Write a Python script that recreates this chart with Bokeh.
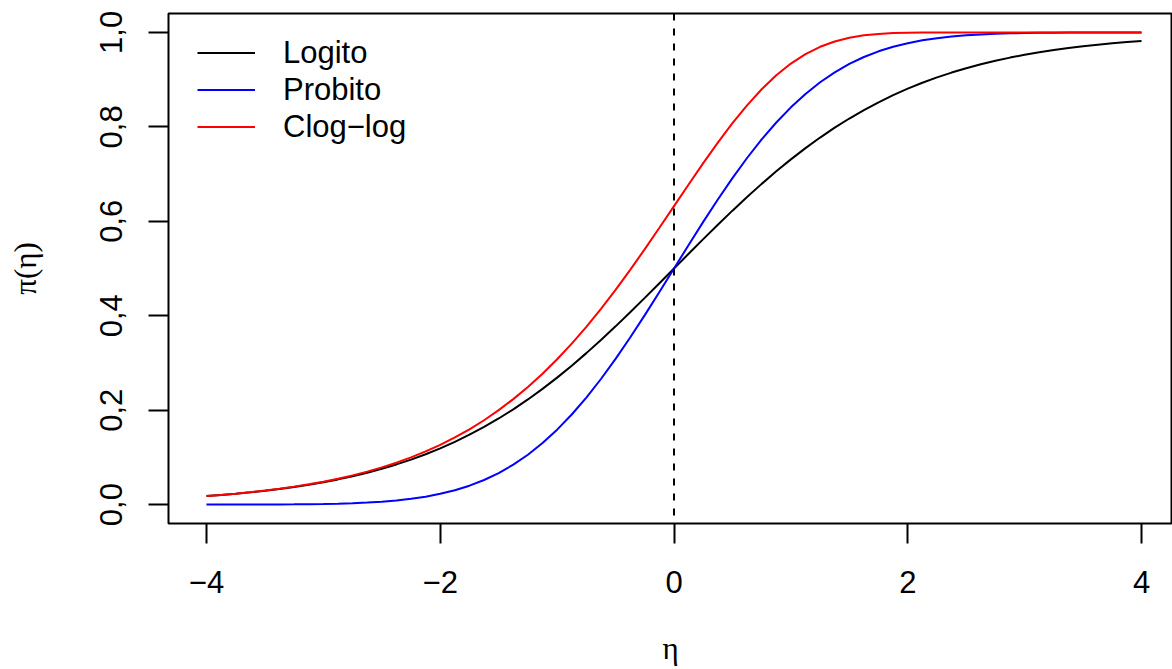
from bokeh.plotting import figure
from bokeh.models import Range1d, FixedTicker, Span, Legend, LegendItem
from bokeh.embed import file_html
from bokeh.resources import INLINE

# ---- data ----
eta = [-4.0, -3.875, -3.75, -3.625, -3.5, -3.375, -3.25, -3.125,
       -3.0, -2.875, -2.75, -2.625, -2.5, -2.375, -2.25, -2.125,
       -2.0, -1.875, -1.75, -1.625, -1.5, -1.375, -1.25, -1.125,
       -1.0, -0.875, -0.75, -0.625, -0.5, -0.375, -0.25, -0.125,
       0.0,
       0.125, 0.25, 0.375, 0.5, 0.625, 0.75, 0.875, 1.0,
       1.125, 1.25, 1.375, 1.5, 1.625, 1.75, 1.875, 2.0,
       2.125, 2.25, 2.375, 2.5, 2.625, 2.75, 2.875, 3.0,
       3.125, 3.25, 3.375, 3.5, 3.625, 3.75, 3.875, 4.0]

logito = [0.0180, 0.0203, 0.0230, 0.0260, 0.0293, 0.0331, 0.0374, 0.0421,
          0.0474, 0.0534, 0.0601, 0.0676, 0.0759, 0.0851, 0.0953, 0.1067,
          0.1192, 0.1330, 0.1480, 0.1645, 0.1824, 0.2018, 0.2227, 0.2451,
          0.2689, 0.2942, 0.3208, 0.3487, 0.3775, 0.4073, 0.4378, 0.4688,
          0.5000,
          0.5312, 0.5622, 0.5927, 0.6225, 0.6513, 0.6792, 0.7058, 0.7311,
          0.7549, 0.7773, 0.7982, 0.8176, 0.8355, 0.8520, 0.8670, 0.8808,
          0.8933, 0.9047, 0.9149, 0.9241, 0.9324, 0.9399, 0.9466, 0.9526,
          0.9579, 0.9626, 0.9669, 0.9707, 0.9740, 0.9770, 0.9797, 0.9820]

probito = [0.0000, 0.0001, 0.0001, 0.0001, 0.0002, 0.0004, 0.0006, 0.0009,
           0.0013, 0.0020, 0.0030, 0.0043, 0.0062, 0.0088, 0.0122, 0.0168,
           0.0228, 0.0304, 0.0401, 0.0521, 0.0668, 0.0846, 0.1056, 0.1303,
           0.1587, 0.1908, 0.2266, 0.2660, 0.3085, 0.3538, 0.4013, 0.4503,
           0.5000,
           0.5497, 0.5987, 0.6462, 0.6915, 0.7340, 0.7734, 0.8092, 0.8413,
           0.8697, 0.8944, 0.9154, 0.9332, 0.9479, 0.9599, 0.9696, 0.9772,
           0.9832, 0.9878, 0.9912, 0.9938, 0.9957, 0.9970, 0.9980, 0.9987,
           0.9991, 0.9994, 0.9996, 0.9998, 0.9999, 0.9999, 0.9999, 1.0000]

cloglog = [0.0181, 0.0205, 0.0232, 0.0263, 0.0297, 0.0336, 0.0381, 0.0430,
           0.0486, 0.0548, 0.0619, 0.0699, 0.0788, 0.0888, 0.1000, 0.1126,
           0.1266, 0.1422, 0.1595, 0.1787, 0.2000, 0.2234, 0.2490, 0.2772,
           0.3078, 0.3409, 0.3765, 0.4145, 0.4548, 0.4971, 0.5410, 0.5862,
           0.6321,
           0.6779, 0.7231, 0.7666, 0.8077, 0.8456, 0.8796, 0.9092, 0.9340,
           0.9540, 0.9695, 0.9808, 0.9887, 0.9938, 0.9968, 0.9985, 0.9994,
           0.9998, 0.9999, 1.0000, 1.0000, 1.0000, 1.0000, 1.0000, 1.0000,
           1.0000, 1.0000, 1.0000, 1.0000, 1.0000, 1.0000, 1.0000, 1.0000]

series_names = ["Logito", "Probito", "Clog\u2212log"]
series_colors = ["black", "blue", "red"]

x_ticks = [-4, -2, 0, 2, 4]
x_tick_labels = ["\u22124", "\u22122", "0", "2", "4"]
y_ticks = [0.0, 0.2, 0.4, 0.6, 0.8, 1.0]
y_tick_labels = ["0,0", "0,2", "0,4", "0,6", "0,8", "1,0"]
vline_at = 0

FONT = "Liberation Sans"
SIZE = "31px"

p = figure(width=1172, height=669, output_backend="svg", toolbar_location=None,
           x_range=Range1d(-4.325, 4.265), y_range=Range1d(-0.04, 1.04),
           min_border_left=168, min_border_right=0, min_border_top=13, min_border_bottom=146)
p.grid.visible = False
p.outline_line_color = "black"
p.outline_line_width = 2
p.background_fill_color = "white"
p.border_fill_color = "white"

renderers = []
for ys, col in zip([logito, probito, cloglog], series_colors):
    r = p.line(eta, ys, line_color=col, line_width=2)
    renderers.append(r)

p.add_layout(Span(location=vline_at, dimension="height", line_color="black",
                  line_dash="7 8", line_width=2))

legend = Legend(items=[LegendItem(label=n, renderers=[r]) for n, r in zip(series_names, renderers)],
                location=(29, 378), orientation="vertical",
                glyph_width=58, glyph_height=37, label_height=37, spacing=0,
                label_standoff=28, padding=0, margin=0,
                border_line_color=None, background_fill_alpha=0,
                label_text_font=FONT, label_text_font_size=SIZE, label_text_color="black")
p.add_layout(legend)

for ax in (p.xaxis[0], p.yaxis[0]):
    ax.axis_line_color = None
    ax.major_tick_out = 20
    ax.major_tick_in = 0
    ax.major_tick_line_width = 2
    ax.major_tick_line_color = "black"
    ax.minor_tick_line_color = None
    ax.major_label_text_font = FONT
    ax.major_label_text_font_size = SIZE
    ax.major_label_text_color = "black"
    ax.axis_label_text_font = "Liberation Serif"
    ax.axis_label_text_font_size = SIZE
    ax.axis_label_text_font_style = "normal"
    ax.axis_label_text_color = "black"

p.xaxis.ticker = FixedTicker(ticks=x_ticks)
p.xaxis.major_label_overrides = dict(zip(x_ticks, x_tick_labels))
p.xaxis.major_label_standoff = 27
p.xaxis.axis_label = "\u03b7"
p.xaxis.axis_label_standoff = 35

p.yaxis.ticker = FixedTicker(ticks=y_ticks)
p.yaxis.major_label_overrides = dict(zip(y_ticks, y_tick_labels))
p.yaxis.major_label_orientation = "vertical"
p.yaxis.major_label_standoff = 26
p.yaxis.axis_label = "\u03c0(\u03b7)"
p.yaxis.axis_label_standoff = 55

open("out.html", "w").write(file_html(p, INLINE))
